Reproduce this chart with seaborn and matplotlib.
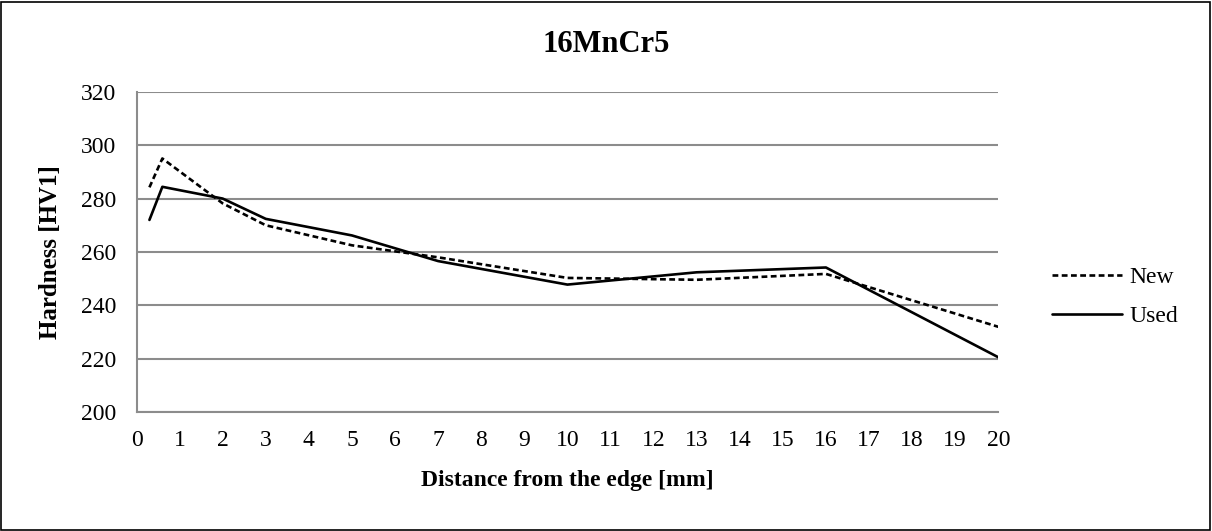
import matplotlib
matplotlib.use("Agg")
import matplotlib.pyplot as plt
import seaborn as sns
import pandas as pd
from matplotlib.patches import Rectangle
from matplotlib.lines import Line2D

# Data
distance = [0.3, 0.6, 2, 3, 5, 7, 10, 13, 16, 20]
new_hv = [284.2, 295.0, 278.2, 270.0, 262.5, 258.0, 250.3, 249.6, 251.8, 232.0]
used_hv = [272.0, 284.4, 280.0, 272.4, 266.2, 256.6, 247.8, 252.4, 254.2, 220.6]
series_names = ["New", "Used"]
y_ticks = [200, 220, 240, 260, 280, 300, 320]
x_ticks = list(range(0, 21))

df = pd.DataFrame({
    "Distance": distance * 2,
    "Hardness": new_hv + used_hv,
    "Series": [series_names[0]] * len(distance) + [series_names[1]] * len(distance),
})

sns.set_theme(style="white")
plt.rcParams["font.family"] = ["Liberation Serif", "DejaVu Serif"]
plt.rcParams["text.color"] = "black"
plt.rcParams["axes.labelcolor"] = "black"

W, H = 1212, 531
fig = plt.figure(figsize=(W / 100, H / 100), dpi=100)
L, R, T, B = 136.5, 998.3, 91.7, 412.3
ax = fig.add_axes([L / W, 1 - B / H, (R - L) / W, (B - T) / H])

sns.lineplot(
    data=df, x="Distance", y="Hardness", hue="Series", style="Series",
    palette={"New": "black", "Used": "black"},
    dashes={"New": (2.2, 1.3), "Used": ""},
    linewidth=1.9, ax=ax, legend=False, sort=False,
)

ax.set_xlim(0, 20)
ax.set_ylim(200, 320)
ax.set_xticks(x_ticks)
ax.set_xticklabels([str(v) for v in x_ticks])
ax.set_yticks(y_ticks)
ax.yaxis.grid(True, color="#8c8c8c", linewidth=1.5)
ax.xaxis.grid(False)
ax.set_axisbelow(True)

for side in ["top", "right"]:
    ax.spines[side].set_visible(False)
for side in ["left", "bottom"]:
    ax.spines[side].set_color("#8c8c8c")
    ax.spines[side].set_linewidth(1.5)

ax.tick_params(axis="both", which="major", direction="out", length=5.5, width=1.2,
               color="#8c8c8c", labelsize=17, labelcolor="black")
ax.tick_params(axis="x", pad=7)
ax.tick_params(axis="y", pad=9)

ax.set_xlabel("Distance from the edge [mm]", fontsize=17, fontweight="bold", color="black")
ax.xaxis.set_label_coords(0.5, (B - 470) / (B - T))
ax.set_ylabel("Hardness [HV1]", fontsize=18, fontweight="bold", color="black")
ax.yaxis.set_label_coords((62 - L) / (R - L), 0.5)

fig.text(0.5, 1 - 45 / H, "16MnCr5", ha="center", va="center", fontsize=22,
         fontweight="bold", color="black")

# Legend
handles = [
    Line2D([0], [0], color="black", lw=1.9, dashes=(2.2, 1.3)),
    Line2D([0], [0], color="black", lw=1.9),
]
fig.legend(handles, series_names, loc="center left", bbox_to_anchor=(1031 / W, 1 - 297 / H),
           frameon=False, fontsize=17, handlelength=2.95, labelspacing=0.75, handletextpad=0.3)

# Figure border
fig.patches.append(Rectangle((0.001, 0.002), 0.997, 0.995, transform=fig.transFigure,
                             fill=False, edgecolor="black", linewidth=1.2))

fig.savefig("out.png", dpi=100)
